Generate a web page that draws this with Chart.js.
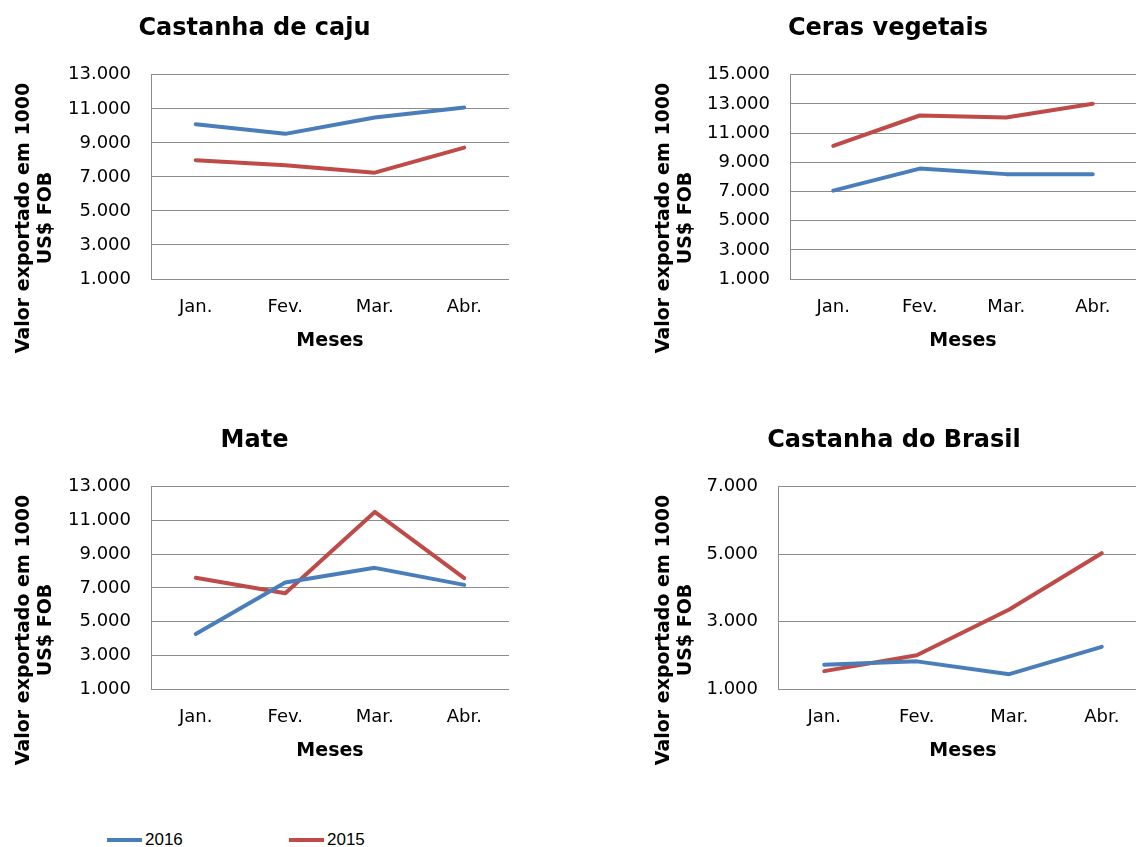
<!DOCTYPE html>
<html>
<head>
<meta charset="utf-8">
<script src="https://cdn.jsdelivr.net/npm/chart.js@4.4.1/dist/chart.umd.min.js"></script>
<style>
    body { margin: 0; background: #fff; width: 1136px; height: 847px; overflow: hidden; position: relative; }
    .box { position: absolute; }
    #legend { position: absolute; left: 0; top: 828px; font: 17px "Liberation Sans", Arial, sans-serif; color: #000; }
    #legend span { position: absolute; white-space: nowrap; line-height: 24px; }
    #legend i { position: absolute; height: 4px; top: 10px; }
</style>
</head>
<body>
<div class="box" style="left:0;top:0;width:509px;height:360px"><canvas id="caju"></canvas></div>
<div class="box" style="left:640px;top:0;width:496px;height:360px"><canvas id="ceras"></canvas></div>
<div class="box" style="left:0;top:412px;width:509px;height:358px"><canvas id="mate"></canvas></div>
<div class="box" style="left:640px;top:412px;width:508px;height:358px"><canvas id="brasil"></canvas></div>
<div id="legend"></div>

<script>
// meses e séries
const meses = ['Jan.', 'Fev.', 'Mar.', 'Abr.'];
const anos = ['2016', '2015'];
const cores = ['#4a7ebb', '#be4b48'];

// valores exportados (1000 US$ FOB)
const caju2016 = [10100, 9530, 10490, 11080];
const caju2015 = [7980, 7690, 7250, 8720];
const ceras2016 = [7060, 8570, 8190, 8180];
const ceras2015 = [10130, 12210, 12070, 13010];
const mate2016 = [4270, 7320, 8190, 7180];
const mate2015 = [7600, 6680, 11510, 7580];
const brasil2016 = [1720, 1820, 1440, 2250];
const brasil2015 = [1530, 2000, 3360, 5030];

// marcas do eixo y
const cajuTicks = [1000, 3000, 5000, 7000, 9000, 11000, 13000];
const cerasTicks = [1000, 3000, 5000, 7000, 9000, 11000, 13000, 15000];
const mateTicks = [1000, 3000, 5000, 7000, 9000, 11000, 13000];
const brasilTicks = [1000, 3000, 5000, 7000];

const yTitulo = ['Valor exportado em 1000', 'US$ FOB'];

function fmt(v) {
    return v.toString().replace(/\B(?=(\d{3})+(?!\d))/g, '.');
}

// título vertical desenhado à mão (centrado fora da área do gráfico)
const sideTitle = {
    id: 'sideTitle',
    afterDraw(chart, args, opts) {
        const ctx = chart.ctx;
        ctx.save();
        ctx.font = 'bold 19px "DejaVu Sans"';
        ctx.fillStyle = '#000';
        ctx.textAlign = 'center';
        ctx.textBaseline = 'middle';
        opts.lines.forEach((line, i) => {
            ctx.save();
            ctx.translate(opts.x[i], opts.y);
            ctx.rotate(-Math.PI / 2);
            ctx.fillText(line, 0, 0);
            ctx.restore();
        });
        ctx.restore();
    }
};

function makeChart(id, titulo, v2016, v2015, ticks, yWidth) {
    const gridColor = '#8c8c8c';
    new Chart(document.getElementById(id), {
        type: 'line',
        data: {
            labels: meses,
            datasets: [v2016, v2015].map((d, i) => ({
                label: anos[i],
                data: d,
                borderColor: cores[i],
                backgroundColor: cores[i],
                borderWidth: 4,
                pointRadius: 0,
                tension: 0,
                borderCapStyle: 'round',
                borderJoinStyle: 'round'
            }))
        },
        options: {
            responsive: true,
            maintainAspectRatio: false,
            animation: false,
            layout: { padding: { top: 0, bottom: 8, left: 0, right: 0 } },
            plugins: {
                legend: { display: false },
                tooltip: { enabled: false },
                title: {
                    display: true,
                    text: titulo,
                    color: '#000',
                    font: { family: 'DejaVu Sans', size: 24, weight: 'bold' },
                    padding: { top: 14, bottom: 32 }
                },
                sideTitle: { lines: yTitulo, x: [24, 46], y: 218 }
            },
            scales: {
                x: {
                    offset: true,
                    grid: { display: false, drawTicks: false },
                    border: { display: true, color: gridColor, width: 1 },
                    ticks: { color: '#000', padding: 18, font: { family: 'DejaVu Sans', size: 18 } },
                    title: {
                        display: true,
                        text: 'Meses',
                        color: '#000',
                        padding: 0,
                        font: { family: 'DejaVu Sans', size: 19, weight: 'bold' }
                    },
                    afterFit(scale) { scale.height = 73; }
                },
                y: {
                    min: ticks[0],
                    max: ticks[ticks.length - 1],
                    grid: { color: gridColor, lineWidth: 1, drawTicks: false },
                    border: { display: true, color: gridColor, width: 1 },
                    ticks: {
                        color: '#000',
                        padding: 20,
                        font: { family: 'DejaVu Sans', size: 18 },
                        callback: v => fmt(v)
                    },
                    afterBuildTicks(scale) { scale.ticks = ticks.map(v => ({ value: v })); },
                    afterFit(scale) { scale.width = yWidth; }
                }
            }
        },
        plugins: [sideTitle]
    });
}

makeChart('caju', 'Castanha de caju', caju2016, caju2015, cajuTicks, 151);
makeChart('ceras', 'Ceras vegetais', ceras2016, ceras2015, cerasTicks, 150);
makeChart('mate', 'Mate', mate2016, mate2015, mateTicks, 151);
makeChart('brasil', 'Castanha do Brasil', brasil2016, brasil2015, brasilTicks, 138);

// legenda comum
const legend = document.getElementById('legend');
const legendX = [107, 289];
anos.forEach((a, i) => {
    const line = document.createElement('i');
    line.style.left = legendX[i] + 'px';
    line.style.width = '35px';
    line.style.background = cores[i];
    legend.appendChild(line);
    const txt = document.createElement('span');
    txt.style.left = (legendX[i] + 38) + 'px';
    txt.textContent = a;
    legend.appendChild(txt);
});
</script>
</body>
</html>
